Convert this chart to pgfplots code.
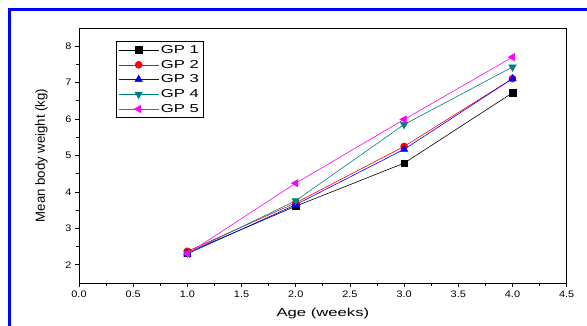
\documentclass[border=0pt]{standalone}
\usepackage{pgfplots}
\pgfplotsset{compat=1.18}
\usepackage{fontspec}
\setmainfont{Liberation Sans}
\newfontfamily\widefont[FakeStretch=1.45]{Liberation Sans}
\newfontfamily\tickfont[FakeStretch=1.15]{Liberation Sans}
\definecolor{gpteal}{RGB}{0,128,128}
\definecolor{gpmag}{RGB}{255,0,255}
\begin{document}
\begin{tikzpicture}[x=1pt,y=1pt]
\useasboundingbox (0,0) rectangle (587,325);
\begin{axis}[
  at={(79pt,42pt)}, anchor=south west,
  scale only axis, width=487.7pt, height=255pt,
  xmin=0, xmax=4.5, ymin=1.5, ymax=8.5,
  xtick={0,0.5,...,4.5}, ytick={2,3,...,8},
  minor x tick num=1, minor y tick num=1,
  xtick pos=bottom, ytick pos=left,
  tick align=outside,
  major tick length=4pt, minor tick length=2.5pt,
  tick style={black, line width=0.8pt},
  axis line style={black, line width=0.8pt},
  x tick label style={/pgf/number format/.cd, fixed, fixed zerofill, precision=1},
  /pgf/number format/assume math mode=true,
  tick label style={font=\tickfont\fontsize{9.5}{11}\selectfont},
  xlabel={Age (weeks)}, ylabel={Mean body weight (kg)},
  xlabel style={font=\widefont\fontsize{11.5}{13}\selectfont, yshift=-4pt},
  ylabel style={font=\fontsize{13.2}{15}\selectfont, yshift=11pt},
  legend style={at={(0.076,0.949)}, anchor=north west, draw=black, line width=0.6pt,
    font=\widefont\fontsize{11.5}{13}\selectfont, row sep=1.2pt, inner sep=2pt},
  legend cell align=left,
  legend image code/.code={\draw[#1] (0pt,0pt) -- (40pt,0pt); \draw[#1, mark repeat=2, mark phase=2] plot coordinates {(0pt,0pt) (20pt,0pt) (40pt,0pt)};},
]
\addplot[black, line width=0.6pt, mark=square*, mark size=3.3pt] coordinates {(1,2.33) (2,3.61) (3,4.79) (4,6.72)};
\addlegendentry{GP 1}
\addplot[red, line width=0.6pt, mark=*, mark size=3.5pt] coordinates {(1,2.37) (2,3.70) (3,5.25) (4,7.11)};
\addlegendentry{GP 2}
\addplot[blue, line width=0.6pt, mark=triangle*, mark size=4.2pt] coordinates {(1,2.30) (2,3.65) (3,5.17) (4,7.11)};
\addlegendentry{GP 3}
\addplot[gpteal, line width=0.6pt, mark=triangle*, mark size=4.2pt, every mark/.append style={rotate=180}] coordinates {(1,2.32) (2,3.76) (3,5.85) (4,7.43)};
\addlegendentry{GP 4}
\addplot[gpmag, line width=0.6pt, mark=triangle*, mark size=4.2pt, every mark/.append style={rotate=90}] coordinates {(1,2.30) (2,4.24) (3,5.99) (4,7.70)};
\addlegendentry{GP 5}
\end{axis}
\draw[blue, line width=3.5pt] (9.5,-2) -- (9.5,315.5) -- (590,315.5);
\end{tikzpicture}
\end{document}
